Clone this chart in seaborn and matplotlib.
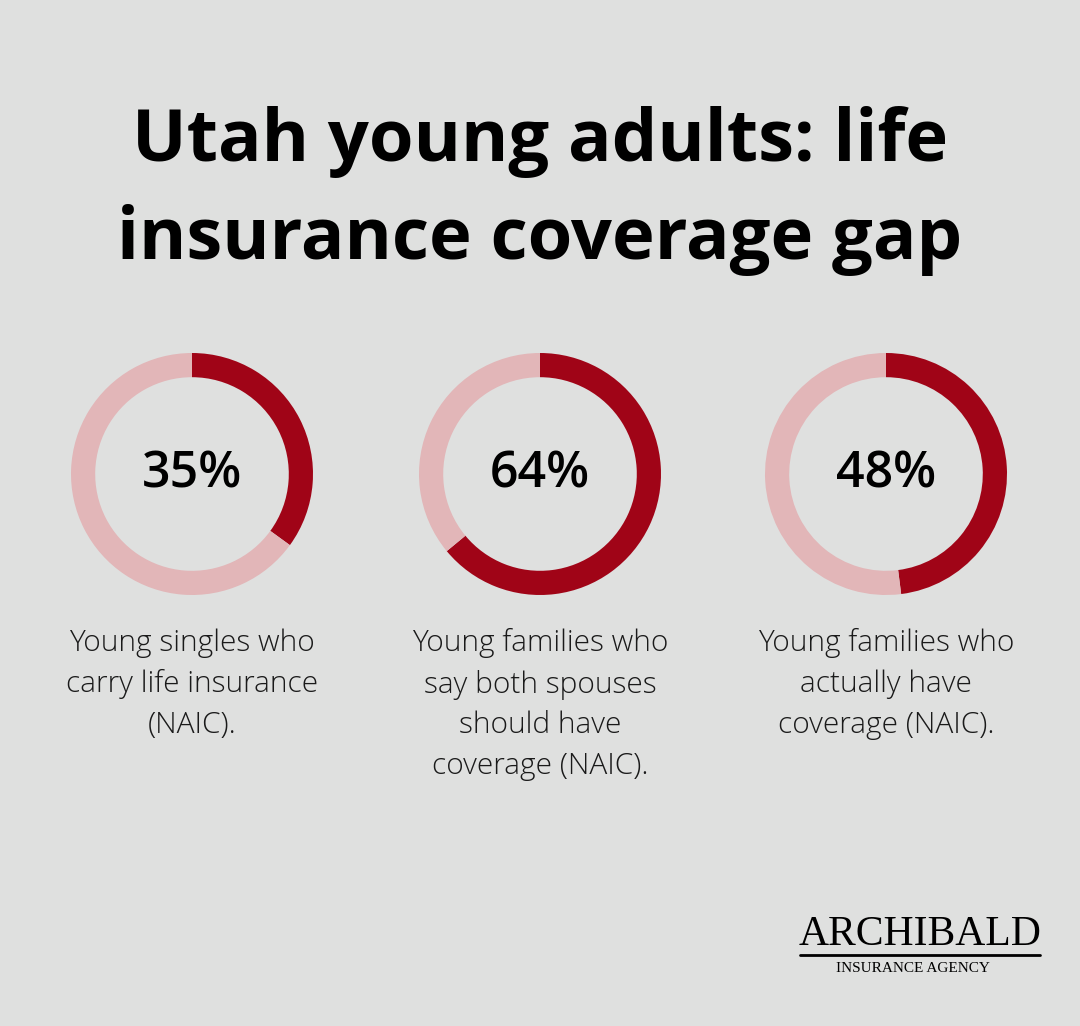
import matplotlib.pyplot as plt
import seaborn as sns

sns.set_theme(style="white")
plt.rcParams['font.family'] = ['Open Sans', 'DejaVu Sans']

# data
values = [35, 64, 48]
labels = ["35%", "64%", "48%"]
captions = [
    "Young singles who\ncarry life insurance\n(NAIC).",
    "Young families who\nsay both spouses\nshould have\ncoverage (NAIC).",
    "Young families who\nactually have\ncoverage (NAIC).",
]
centers_x = [192, 540, 886]

BG = '#dfe0df'
DARK = '#a00417'
LIGHT = '#e2b6b8'

W, H = 1080, 1026
fig = plt.figure(figsize=(W / 100, H / 100), dpi=100)
fig.patch.set_facecolor(BG)

fig.text(0.5, 1 - 142 / H, "Utah young adults: life", ha='center', va='center',
         fontsize=52, fontweight='bold', color='black')
fig.text(0.5, 1 - 240 / H, "insurance coverage gap", ha='center', va='center',
         fontsize=52, fontweight='bold', color='black')

R = 121
for cx, v, lab, cap in zip(centers_x, values, labels, captions):
    ax = fig.add_axes([(cx - R) / W, 1 - (474 + R) / H, 2 * R / W, 2 * R / H])
    ax.pie([v, 100 - v], colors=[DARK, LIGHT], startangle=90, counterclock=False,
           wedgeprops=dict(width=0.2, linewidth=0))
    ax.set_xlim(-1, 1)
    ax.set_ylim(-1, 1)
    ax.set_aspect('equal')
    ax.text(0, 0, lab, ha='center', va='center', fontsize=36, fontweight='semibold',
            color='black')
    fig.text(cx / W, 1 - 628 / H, cap, ha='center', va='top', fontsize=21.5,
             fontweight='light', color='#1a1a1a', linespacing=1.5)

# logo
fig.text(920 / W, 1 - 935 / H, "ARCHIBALD", ha='center', va='center',
         fontsize=30, family='Liberation Serif', color='black')
fig.add_artist(plt.Line2D([800 / W, 1040 / W], [1 - 955 / H, 1 - 955 / H],
                          color='black', lw=2))
fig.text(913 / W, 1 - 969 / H, "INSURANCE AGENCY", ha='center', va='center',
         fontsize=11, family='Liberation Serif', color='black')

fig.savefig('out.png', dpi=100, facecolor=BG)
